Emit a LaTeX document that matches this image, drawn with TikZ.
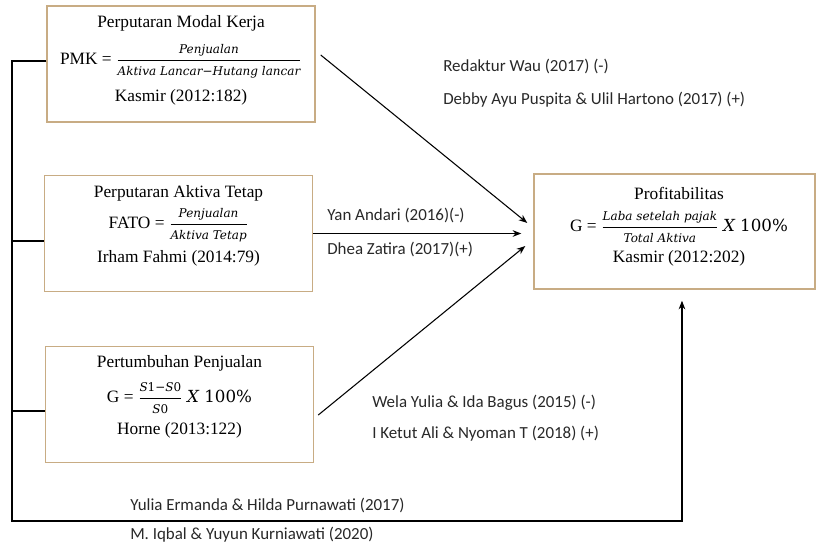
\documentclass[tikz,border=0pt]{standalone}
\usepackage{amsmath}
\usepackage{fontspec}
\setmainfont{Liberation Serif}
\newfontfamily\calibri{Carlito}
\newfontfamily\cambria{DejaVu Serif}
\usetikzlibrary{arrows.meta}

\definecolor{boxtan}{RGB}{200,172,132}
\definecolor{teks}{RGB}{40,40,40}

\newcommand{\pecahan}[2]{\(\displaystyle\frac{\text{\fontsize{9}{10}\cambria\itshape #1}}{\text{\fontsize{9}{10}\cambria\itshape #2}}\)}
\newcommand{\kali}{{\fontsize{12.5}{14}\cambria\itshape X \upshape 100\%}}

\begin{document}
\begin{tikzpicture}[
    x=0.75pt, y=-0.75pt,
    kotak/.style={draw=boxtan, line width=1.1pt, fill=white, inner sep=0pt,
                  minimum width=201pt, minimum height=87pt},
    judul/.style={font=\fontsize{13}{15}\selectfont, inner sep=0pt},
    ket/.style={font=\calibri\fontsize{12.7}{15}\selectfont, anchor=west,
                inner sep=0pt, text=teks},
    garis/.style={line width=0.8pt},
    arr/.style={-{Stealth[length=6.5pt,width=5pt]}, line width=0.8pt}
  ]
  \useasboundingbox (0,0) rectangle (817,547);
  % Perputaran Modal Kerja
  \node[kotak] (modal) at (181,64) {};
  \node[judul] (modalJudul) at (181,23) {Perputaran Modal Kerja};
  \node[judul] (modalRumus) at (181,61) {PMK = \pecahan{Penjualan}{Aktiva Lancar−Hutang lancar}};
  \node[judul] (modalSumber) at (181,97) {Kasmir (2012:182)};
  % Perputaran Aktiva Tetap
  \node[kotak] (aktiva) at (178.5,233.5) {};
  \node[judul] (aktivaJudul) at (178.5,193) {Perputaran Aktiva Tetap};
  \node[judul] (aktivaRumus) at (178.5,225) {FATO = \pecahan{Penjualan}{Aktiva Tetap}};
  \node[judul] (aktivaSumber) at (178.5,258) {Irham Fahmi (2014:79)};
  % Pertumbuhan Penjualan
  \node[kotak] (tumbuh) at (179.5,404.5) {};
  \node[judul] (tumbuhJudul) at (179.5,363) {Pertumbuhan Penjualan};
  \node[judul] (tumbuhRumus) at (179.5,398) {G = \pecahan{S{\upshape 1}−S{\upshape 0}}{S{\upshape 0}} \kali};
  \node[judul] (tumbuhSumber) at (179.5,430) {Horne (2013:122)};
  % Profitabilitas
  \node[kotak, minimum width=210.75pt, minimum height=86.25pt] (profit) at (674.5,231.5) {};
  \node[judul] (profitJudul) at (679,193) {Profitabilitas};
  \node[judul] (profitRumus) at (679,227) {G = \pecahan{Laba setelah pajak}{Total Aktiva} \kali};
  \node[judul] (profitSumber) at (679,258) {Kasmir (2012:202)};
  % Garis kiri ke profitabilitas
  \coordinate (bus1) at (12,61);
  \coordinate (bus2) at (12,241);
  \coordinate (bus3) at (12,411);
  \coordinate (busBawah) at (12,521);
  \draw[arr] (bus1 -| modal.west) -- (bus1) -- (busBawah)
    -| ([xshift=5.6pt, yshift=-8.25pt]profit.south);
  \draw[garis] (bus2) -- (bus2 -| aktiva.west);
  \draw[garis] (bus3) -- (bus3 -| tumbuh.west);
  % Panah ke profitabilitas
  \draw[arr] ([xshift=3.75pt, yshift=6.75pt]modal.east) -- ([xshift=-4.5pt, yshift=6.4pt]profit.west);
  \draw[arr, shorten >=9pt] (aktiva.east) -- (aktiva.east -| profit.west);
  \draw[arr] ([xshift=3pt, yshift=-7.9pt]tumbuh.east) -- ([xshift=-6pt, yshift=-10.9pt]profit.west);
  % Peneliti terdahulu
  \node[ket] (redaktur) at (443,66) {Redaktur Wau (2017) (-)};
  \node[ket] (debby) at (443,100) {Debby Ayu Puspita \& Ulil Hartono (2017) (+)};
  \node[ket] (yan) at (327,215) {Yan Andari (2016)(-)};
  \node[ket] (dhea) at (327,249) {Dhea Zatira (2017)(+)};
  \node[ket] (wela) at (372,403) {Wela Yulia \& Ida Bagus (2015) (-)};
  \node[ket] (ketut) at (372,434) {I Ketut Ali \& Nyoman T (2018) (+)};
  \node[ket] (yulia) at (130,505) {Yulia Ermanda \& Hilda Purnawati (2017)};
  \node[ket] (iqbal) at (130,535) {M. Iqbal \& Yuyun Kurniawati (2020)};
\end{tikzpicture}
\end{document}
